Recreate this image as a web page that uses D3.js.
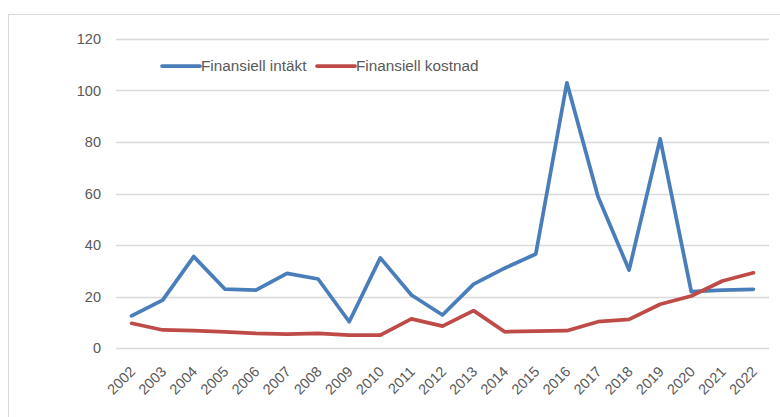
<!DOCTYPE html>
<html><head><meta charset="utf-8">
<script src="https://cdn.jsdelivr.net/npm/d3@7"></script>
<style>
body{margin:0;background:#fff;}
text{font-family:"Liberation Sans",Arial,sans-serif;}
</style></head>
<body><svg id="c" width="780" height="417"></svg>
<script>
const years = ["2002","2003","2004","2005","2006","2007","2008","2009","2010","2011","2012","2013","2014","2015","2016","2017","2018","2019","2020","2021","2022"];
const intakt = [12.5,18.6,35.5,22.9,22.5,29.0,26.8,10.2,35.0,20.6,12.8,24.8,31.0,36.5,103.0,58.8,30.3,81.2,21.9,22.5,22.8];
const kostnad = [9.6,7.0,6.7,6.3,5.7,5.4,5.7,5.0,5.0,11.3,8.5,14.5,6.3,6.6,6.7,10.2,11.1,17.0,20.2,26.0,29.2];
const yTicks = [0,20,40,60,80,100,120];
const seriesNames = ["Finansiell intäkt","Finansiell kostnad"];
const colors = ["#4a7ebb","#be4b48"];
const FONT = '"Liberation Sans",Arial,sans-serif';

const svg = d3.select("#c");
// frame
svg.append("rect").attr("x",8.5).attr("y",14.5).attr("width",800).attr("height",500)
  .attr("fill","none").attr("stroke","#d9d9d9").attr("stroke-width",1);

const x = d3.scaleBand().domain(years).range([116,769]);
const y = d3.scaleLinear().domain([0,120]).range([348,39]);

// gridlines
svg.append("g").selectAll("line").data(yTicks).join("line")
  .attr("x1",116).attr("x2",769)
  .attr("y1",d=>Math.round(y(d))+0.5).attr("y2",d=>Math.round(y(d))+0.5)
  .attr("stroke","#d9d9d9").attr("stroke-width",1.5);

// y axis labels
const yAxis = d3.axisLeft(y).tickValues(yTicks).tickSize(0).tickPadding(0);
const gy = svg.append("g").attr("transform","translate(101,0)").call(yAxis);
gy.select(".domain").remove();
gy.selectAll("text").attr("fill","#595959").style("font-size","14.5px").style("font-family",FONT);

// x axis labels
const xAxis = d3.axisBottom(x).tickSize(0).tickPadding(0);
const gx = svg.append("g").attr("transform","translate(0,348)").call(xAxis);
gx.select(".domain").remove();
gx.selectAll("text")
  .attr("fill","#595959").style("font-size","14.5px").style("font-family",FONT)
  .attr("text-anchor","end").attr("dy","0.35em")
  .attr("transform","translate(1,21) rotate(-45)");

const line = d3.line().x((d,i)=>x(years[i])+x.bandwidth()/2).y(d=>y(d));
[intakt,kostnad].forEach((s,k)=>{
  svg.append("path").datum(s).attr("d",line)
    .attr("fill","none").attr("stroke",colors[k]).attr("stroke-width",3.75)
    .attr("stroke-linejoin","round").attr("stroke-linecap","round");
});

// legend
const lg = svg.append("g");
const lx = [162,317];
seriesNames.forEach((n,k)=>{
  lg.append("line").attr("x1",lx[k]).attr("x2",lx[k]+38).attr("y1",66).attr("y2",66)
    .attr("stroke",colors[k]).attr("stroke-width",3.75).attr("stroke-linecap","round");
  lg.append("text").attr("x",lx[k]+39).attr("y",66).attr("dy","0.35em")
    .attr("fill","#595959").style("font-size","15.3px").style("font-family",FONT).text(n);
});
</script></body></html>
